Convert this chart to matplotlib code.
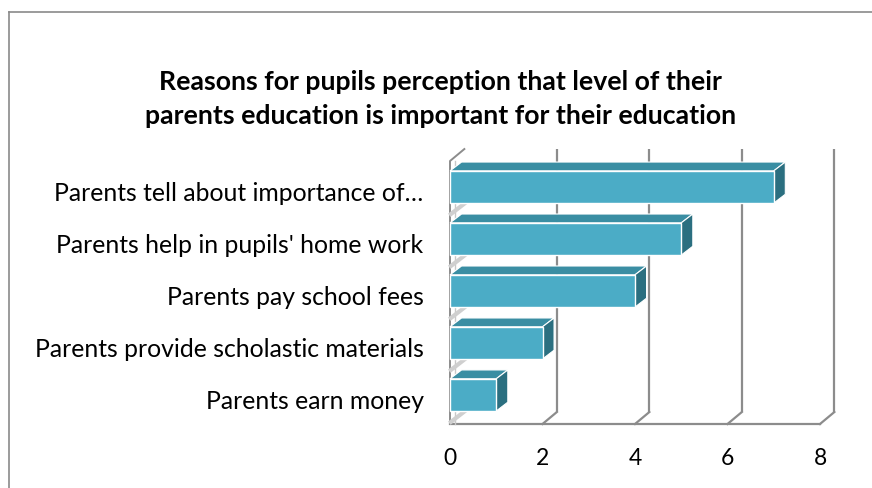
import numpy as np
import matplotlib.pyplot as plt
from matplotlib.patches import Polygon, Rectangle
from matplotlib.transforms import ScaledTranslation

categories = ["Parents earn money",
              "Parents provide scholastic materials",
              "Parents pay school fees",
              "Parents help in pupils' home work",
              "Parents tell about importance of…"]
counts = [1, 2, 4, 5, 7]
xticks = [0, 2, 4, 6, 8]

title = ("Reasons for pupils perception that level of their\n"
         "parents education is important for their education")

front = "#4bacc6"
top_c = "#3a8ea3"
side_c = "#2b6f80"
grid_c = "#8c8c8c"

plt.rcParams['font.family'] = ['Lato', 'DejaVu Sans']

fig = plt.figure(figsize=(8.72, 4.88), dpi=100)
fig.patch.set_facecolor("white")

# chart frame (only left and top edges show)
fig.add_artist(plt.Line2D([9/872, 9/872], [0, 1 - 12/488], transform=fig.transFigure,
                          color="#8a8a8a", lw=1.2))
fig.add_artist(plt.Line2D([9/872, 1], [1 - 12/488, 1 - 12/488], transform=fig.transFigure,
                          color="#8a8a8a", lw=1.2))

fig.text(0.505, 1 - 99/488, title, ha="center", va="center", fontsize=19.2,
         fontweight="bold", linespacing=1.5)

ax = fig.add_axes([450/872, (488-424)/488, 370/872, 263/488])
ylo, yhi = -0.56, 4.5
ax.set_xlim(0, 8)
ax.set_ylim(ylo, yhi)
for s in ax.spines.values():
    s.set_visible(False)
ax.patch.set_visible(False)

# depth of the walls and of the bars, in data units
wdx, wdy = 0.31, 0.23
bdx, bdy = 0.25, 0.17

# back wall gridlines and floor
for x in xticks[1:]:
    ax.plot([x + wdx, x + wdx], [ylo + wdy, yhi + wdy], color=grid_c, lw=1.6,
            clip_on=False, solid_capstyle="butt", zorder=1)
    ax.plot([x, x + wdx], [ylo, ylo + wdy], color=grid_c, lw=1.6, clip_on=False, zorder=1)
ax.plot([0, 8], [ylo, ylo], color=grid_c, lw=1.6, clip_on=False, zorder=1)
ax.plot([0, 0.0, wdx], [ylo, yhi, yhi + wdy], color=grid_c, lw=1.4, clip_on=False, zorder=1)
ax.plot([0.1, 0.1], [ylo, yhi], color="#c8c8c8", lw=1.0, clip_on=False, zorder=1)
for k in range(len(categories)):
    yb = k - 0.5
    ax.plot([0.02, wdx], [yb - 0.02, yb + wdy - 0.05], color="#cfcfcf", lw=3,
            clip_on=False, zorder=1)

# 3d-looking bars
h = 0.62
for i, v in enumerate(counts):
    y0, y1 = i - h/2, i + h/2
    ax.add_patch(Polygon([[0, y1], [v, y1], [v + bdx, y1 + bdy], [bdx, y1 + bdy]],
                         closed=True, facecolor=top_c, edgecolor="white", lw=0.8,
                         clip_on=False, zorder=3))
    ax.add_patch(Polygon([[v, y0], [v + bdx, y0 + bdy], [v + bdx, y1 + bdy], [v, y1]],
                         closed=True, facecolor=side_c, edgecolor="white", lw=0.8,
                         clip_on=False, zorder=3))
    ax.add_patch(Rectangle((0, y0), v, h, facecolor=front, edgecolor="white", lw=1.0,
                           clip_on=False, zorder=4))

ax.set_xticks(xticks)
ax.set_xticklabels([str(t) for t in xticks], fontsize=16.5)
ax.set_yticks(range(len(categories)))
ax.set_yticklabels(categories, fontsize=17.8)
ax.tick_params(axis="x", length=0, pad=17)
ax.tick_params(axis="y", length=0, pad=19)
shift = ScaledTranslation(0, -5/100, fig.dpi_scale_trans)
for lbl in ax.get_yticklabels():
    lbl.set_transform(lbl.get_transform() + shift)

fig.savefig("out.png", dpi=100)
